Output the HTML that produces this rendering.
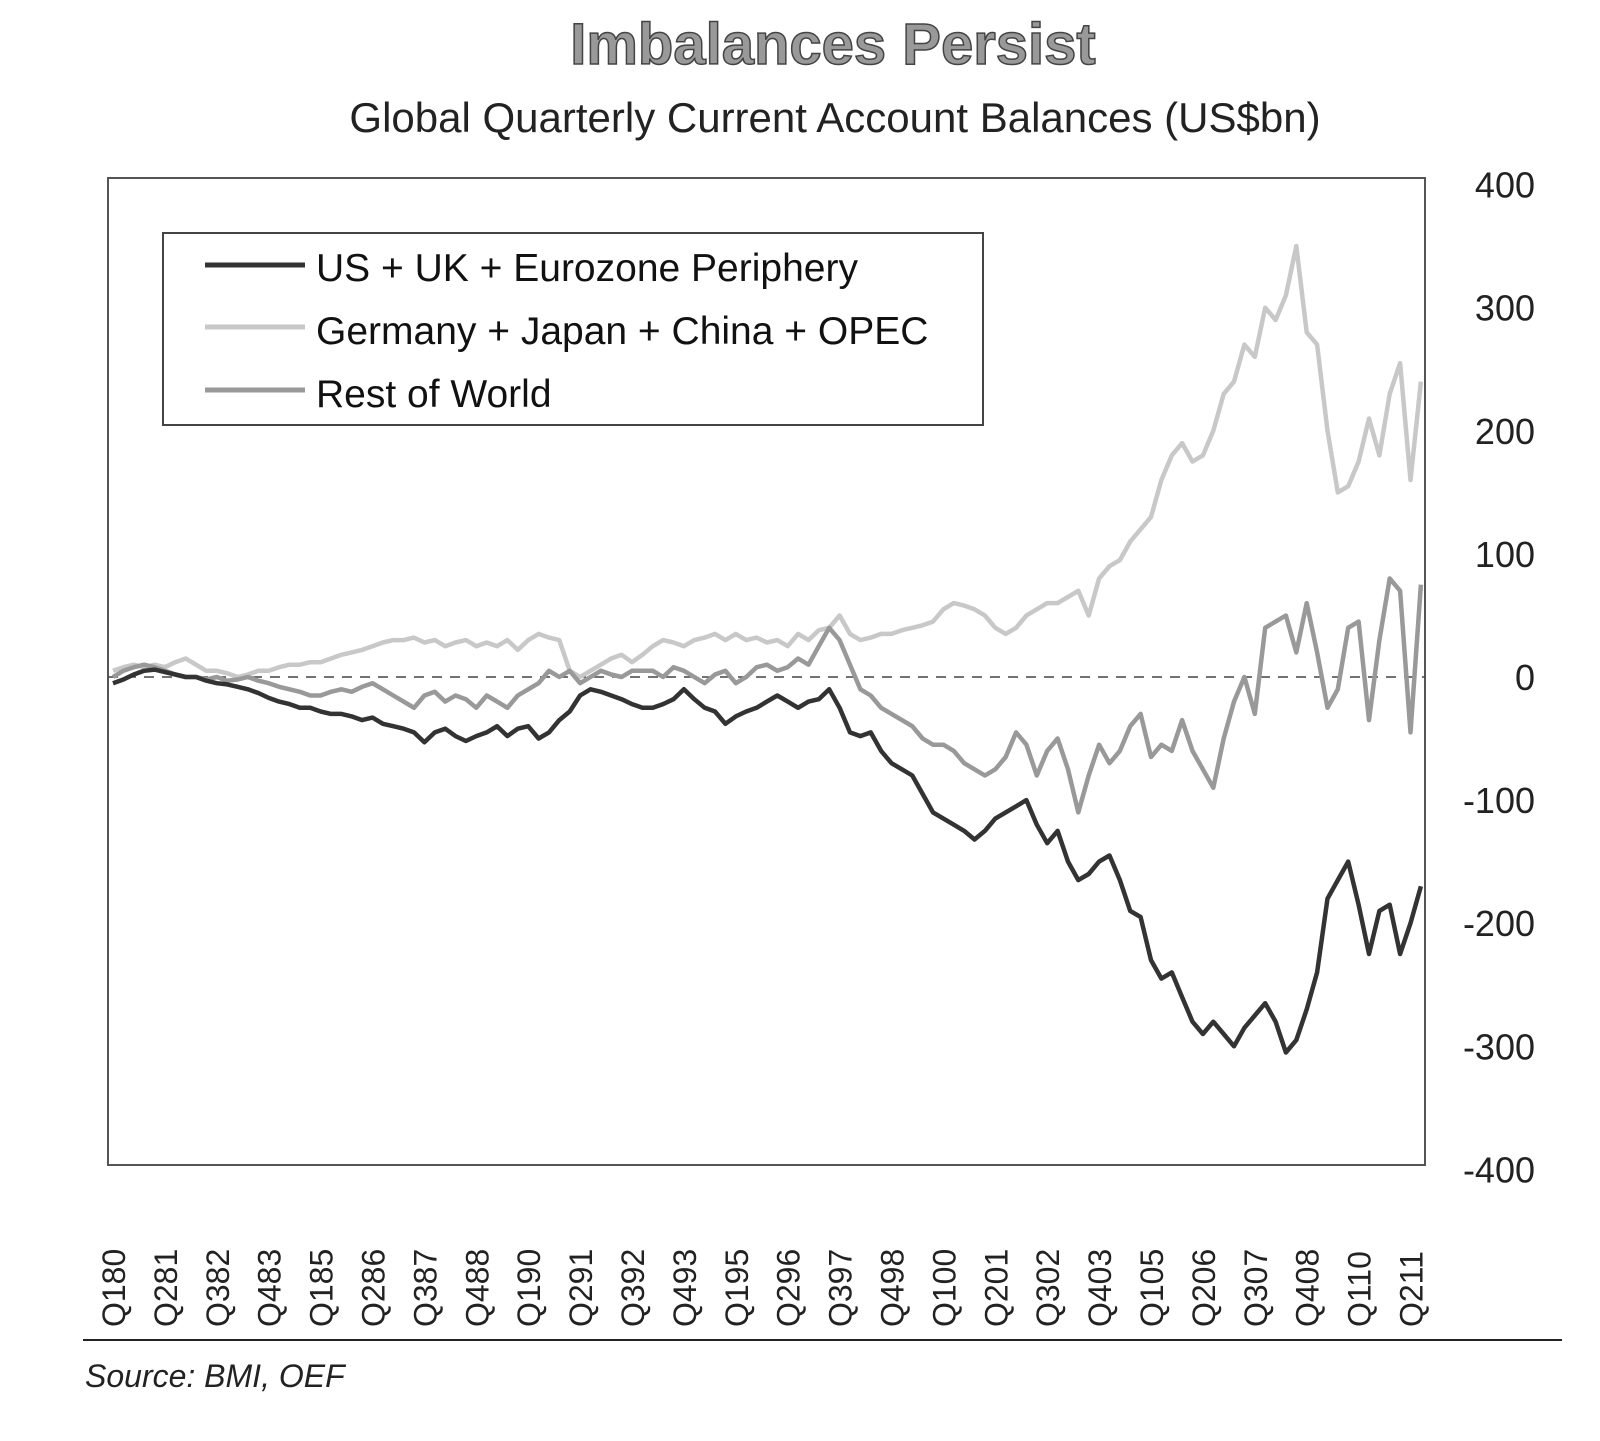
<!DOCTYPE html>
<html><head><meta charset="utf-8"><style>
body{margin:0;background:#fff;width:1600px;height:1436px;overflow:hidden}
svg{font-family:"Liberation Sans",sans-serif}
</style></head><body>
<svg id="chart" width="1600" height="1436">
<text x="833" y="64" text-anchor="middle" font-size="58" font-weight="bold" fill="#999" stroke="#444" stroke-width="1.5">Imbalances Persist</text>
<text x="835" y="132" text-anchor="middle" font-size="42" fill="#222">Global Quarterly Current Account Balances (US$bn)</text>
<rect x="108" y="178" width="1317" height="987" fill="none" stroke="#555" stroke-width="2"/>
<g id="ticks"></g>
<g id="series"></g>
<g>
<rect x="163" y="233" width="820" height="192" fill="#fff" stroke="#444" stroke-width="2"/>
<line x1="205" y1="265" x2="305" y2="265" stroke="#333" stroke-width="5"/>
<text x="316" y="281" font-size="39" fill="#111">US + UK + Eurozone Periphery</text>
<line x1="205" y1="327" x2="305" y2="327" stroke="#c8c8c8" stroke-width="5"/>
<text x="316" y="344" font-size="39" fill="#111">Germany + Japan + China + OPEC</text>
<line x1="205" y1="390" x2="305" y2="390" stroke="#999" stroke-width="5"/>
<text x="316" y="407" font-size="39" fill="#111">Rest of World</text>
</g>
<line x1="83" y1="1340" x2="1562" y2="1340" stroke="#222" stroke-width="2"/>
<text x="85" y="1387" font-size="32" font-style="italic" fill="#222">Source: BMI, OEF</text>
</svg>
<script>
const yTicks=[400,300,200,100,0,-100,-200,-300,-400];
const xLabels=["Q180","Q281","Q382","Q483","Q185","Q286","Q387","Q488","Q190","Q291","Q392","Q493","Q195","Q296","Q397","Q498","Q100","Q201","Q302","Q403","Q105","Q206","Q307","Q408","Q110","Q211"];
const usSeries=[-5,-2,2,5, 6,4,2,0, 0,-3,-5,-6, -8,-10,-13,-17, -20,-22,-25,-25, -28,-30,-30,-32, -35,-33,-38,-40, -42,-45,-53,-45, -42,-48,-52,-48, -45,-40,-48,-42, -40,-50,-45,-35, -28,-15,-10,-12, -15,-18,-22,-25, -25,-22,-18,-10, -18,-25,-28,-38, -32,-28,-25,-20, -15,-20,-25,-20, -18,-10,-25,-45, -48,-45,-60,-70, -75,-80,-95,-110, -115,-120,-125,-132, -125,-115,-110,-105, -100,-120,-135,-125, -150,-165,-160,-150, -145,-165,-190,-195, -230,-245,-240,-260, -280,-290,-280,-290, -300,-285,-275,-265, -280,-305,-295,-270, -240,-180,-165,-150, -185,-225,-190,-185, -225,-200,-170];
const surplusSeries=[5,8,10,8, 10,8,12,15, 10,5,5,3, 0,2,5,5, 8,10,10,12, 12,15,18,20, 22,25,28,30, 30,32,28,30, 25,28,30,25, 28,25,30,22, 30,35,32,30, 5,0,5,10, 15,18,12,18, 25,30,28,25, 30,32,35,30, 35,30,32,28, 30,25,35,30, 38,40,50,35, 30,32,35,35, 38,40,42,45, 55,60,58,55, 50,40,35,40, 50,55,60,60, 65,70,50,80, 90,95,110,120, 130,160,180,190, 175,180,200,230, 240,270,260,300, 290,310,350,280, 270,200,150,155, 175,210,180,230, 255,160,240];
const rowSeries=[0,5,8,10, 8,5,2,0, 0,-2,0,-3, -2,0,-3,-5, -8,-10,-12,-15, -15,-12,-10,-12, -8,-5,-10,-15, -20,-25,-15,-12, -20,-15,-18,-25, -15,-20,-25,-15, -10,-5,5,0, 5,-5,0,5, 2,0,5,5, 5,0,8,5, 0,-5,2,5, -5,0,8,10, 5,8,15,10, 25,40,30,10, -10,-15,-25,-30, -35,-40,-50,-55, -55,-60,-70,-75, -80,-75,-65,-45, -55,-80,-60,-50, -75,-110,-80,-55, -70,-60,-40,-30, -65,-55,-60,-35, -60,-75,-90,-50, -20,0,-30,40, 45,50,20,60, 20,-25,-10,40, 45,-35,30,80, 70,-45,75];
const NS="http://www.w3.org/2000/svg";
const x0=113, dx=10.38;
function xs(i){return x0+dx*i;}
function ys(v){return 677-v*1.231;}
const tg=document.getElementById('ticks');
yTicks.forEach(v=>{
  const t=document.createElementNS(NS,'text');
  t.setAttribute('x',1535);t.setAttribute('y',ys(v)+13);t.setAttribute('text-anchor','end');
  t.setAttribute('font-size','36');t.setAttribute('fill','#222');t.textContent=v;
  
  
  tg.appendChild(t);
});
xLabels.forEach((l,k)=>{
  const x=xs(k*5);
  const t=document.createElementNS(NS,'text');
  t.setAttribute('transform','translate('+(x+12)+',1327) rotate(-90)');
  t.setAttribute('font-size','32');t.setAttribute('fill','#222');t.textContent=l;
  
  
  tg.appendChild(t);
});
const z=document.createElementNS(NS,'line');
z.setAttribute('x1',108);z.setAttribute('x2',1425);z.setAttribute('y1',ys(0));z.setAttribute('y2',ys(0));
z.setAttribute('stroke','#444');z.setAttribute('stroke-width','1.5');z.setAttribute('stroke-dasharray','10,8');


tg.appendChild(z);
const sg=document.getElementById('series');
function draw(arr,color,name){
  const p=document.createElementNS(NS,'polyline');
  p.setAttribute('points',arr.map((v,i)=>xs(i).toFixed(1)+','+ys(v).toFixed(1)).join(' '));
  p.setAttribute('fill','none');p.setAttribute('stroke',color);p.setAttribute('stroke-width','4.5');
  p.setAttribute('stroke-linejoin','round');
  
  
  sg.appendChild(p);
}
draw(surplusSeries,'#c8c8c8','series-surplus-line');
draw(rowSeries,'#999','series-rest-of-world-line');
draw(usSeries,'#333','series-us-uk-periphery-line');
</script>
</body></html>
